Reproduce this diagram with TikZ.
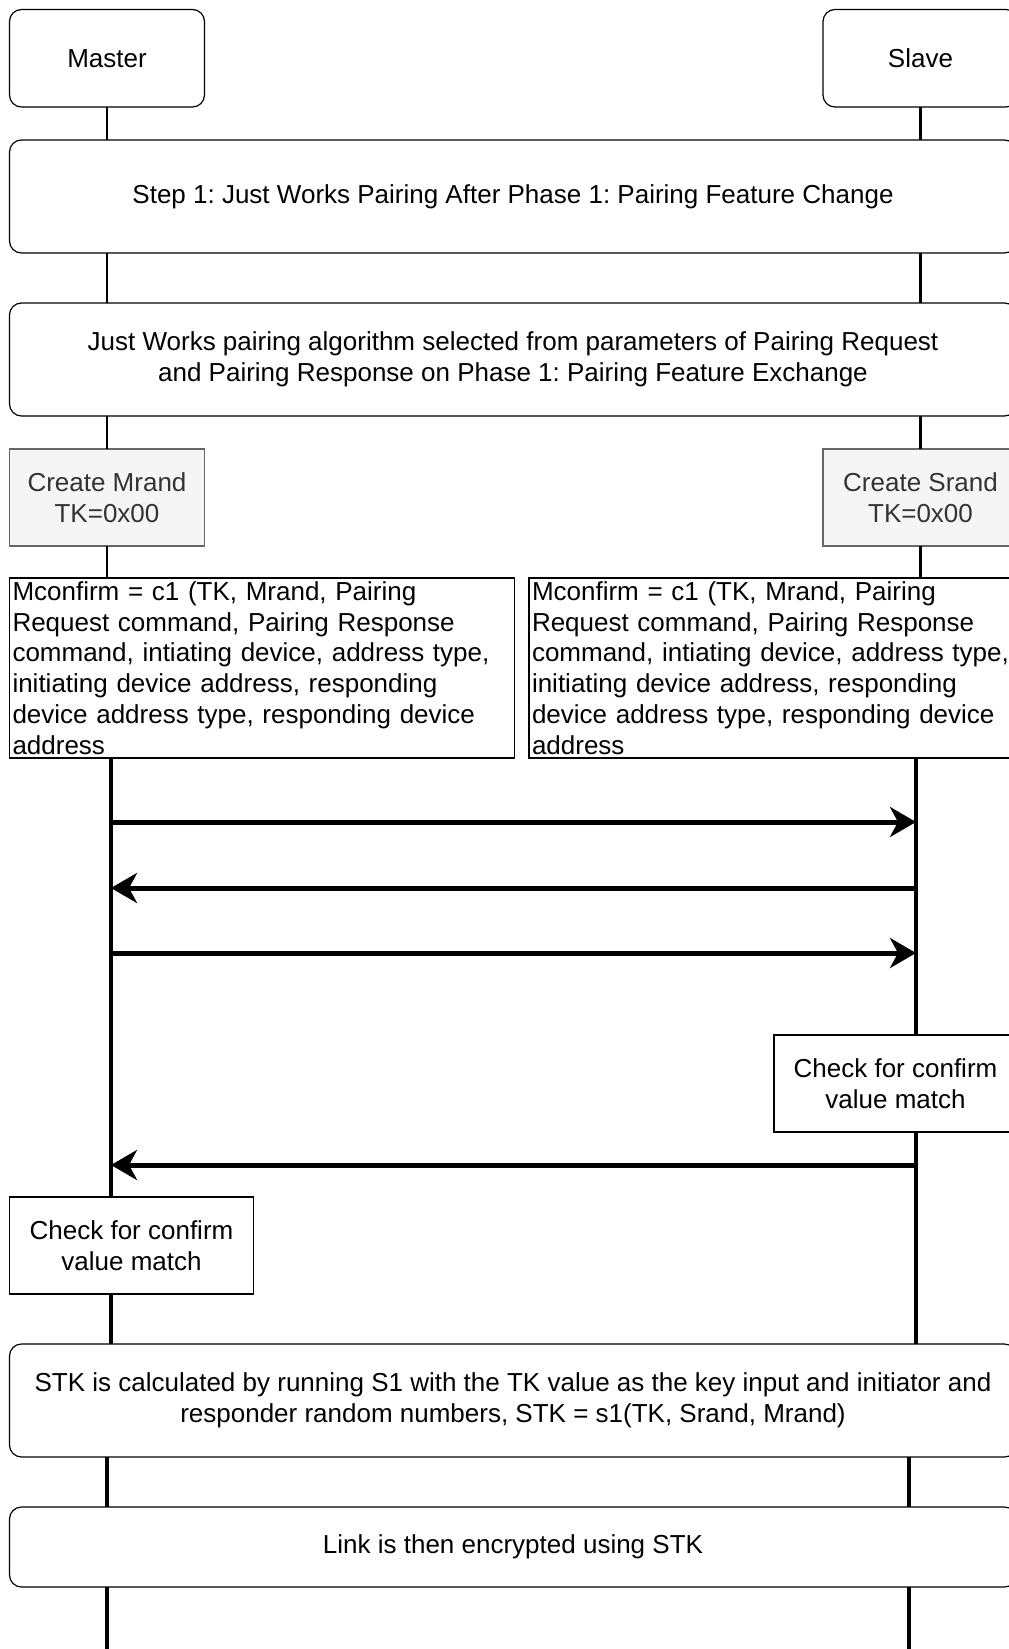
\documentclass[tikz,border=0pt]{standalone}
\usepackage{fontspec}
\setmainfont{Liberation Sans}
\usetikzlibrary{positioning, arrows.meta}
\definecolor{mfill}{RGB}{245,245,245}
\definecolor{mline}{RGB}{102,102,102}
\definecolor{mtext}{RGB}{51,51,51}
\frenchspacing

\begin{document}
\begin{tikzpicture}[x=0.5pt, y=-0.5pt,
    font=\fontsize{13}{15.4}\selectfont,
    every node/.style={inner sep=0pt, outer sep=0pt, anchor=north west},
    actor/.style={draw, rounded corners=6pt, line width=0.6pt, align=center,
      minimum width=97.5pt, minimum height=48.75pt},
    phase/.style={draw, rounded corners=6pt, line width=0.6pt, align=center,
      minimum width=503.5pt, minimum height=56.5pt},
    gen/.style={draw=mline, fill=mfill, text=mtext, line width=0.6pt, align=center,
      minimum width=97.5pt, minimum height=48.5pt},
    calc/.style={draw, line width=0.6pt, align=left, inner xsep=1.5pt,
      minimum height=90pt},
    check/.style={draw, line width=0.6pt, align=center, minimum height=48.5pt},
    life/.style={line width=1.4pt},
    lifeb/.style={line width=2pt},
    msg/.style={line width=2.5pt, -{Stealth[length=13pt, width=15pt, inset=4pt]}}]
  \useasboundingbox (0,0) rectangle (1008,1649);

  % participants
  \node[actor] (master) at (9.5,9.5) {Master};
  \node[actor] (slave) at (823,9.5) {Slave};

  % phase boxes across both lifelines
  \node[phase] (step) at (9.5,140)
    {Step 1: Just Works Pairing After Phase 1: Pairing Feature Change};
  \node[phase] (just) at (9.5,303)
    {Just Works pairing algorithm selected from parameters of Pairing Request\\
     and Pairing Response on Phase 1: Pairing Feature Exchange};

  \node[gen] (crM) at (9.5,449) {Create Mrand\\TK=0x00};
  \node[gen] (crS) at (823,449) {Create Srand\\TK=0x00};

  \node[calc, text width=249.5pt] (cfM) at (9.5,578)
    {Mconfirm = c1 (TK, Mrand, Pairing\\Request command, Pairing Response\\
     command, intiating device, address type,\\initiating device address, responding\\
     device address type, responding device\\address};
  \node[calc, text width=241pt] (cfS) at (529,578)
    {Mconfirm = c1 (TK, Mrand, Pairing\\Request command, Pairing Response\\
     command, intiating device, address type,\\initiating device address, responding\\
     device address type, responding device\\address};

  \node[check, minimum width=121.5pt] (chkS) at (774,1035) {Check for confirm\\value match};
  \node[check, minimum width=122pt] (chkM) at (9.5,1197) {Check for confirm\\value match};

  \node[phase] (stk) at (9.5,1344)
    {STK is calculated by running S1 with the TK value as the key input and initiator and\\
     responder random numbers, STK = s1(TK, Srand, Mrand)};
  \node[phase, minimum height=40pt] (link) at (9.5,1507) {Link is then encrypted using STK};

  % lifelines
  \coordinate (mlo) at (111,0);
  \coordinate (slo) at (916,0);
  \coordinate (slb) at (909,0);
  \coordinate (bot) at (0,1649);
  \foreach \a/\b in {master/step, step/just, just/crM, crM/cfM} {
    \draw[life] (\a.south -| master) -- (\b.north -| master);
  }
  \foreach \a/\b in {slave/step, step/just, just/crS, crS/cfS} {
    \draw[life] (\a.south -| slave) -- (\b.north -| slave);
  }
  \draw[lifeb] (cfM.south -| mlo) -- (chkM.north -| mlo);
  \draw[lifeb] (chkM.south -| mlo) -- (stk.north -| mlo);
  \draw[lifeb] (stk.south -| master) -- (link.north -| master);
  \draw[lifeb] (link.south -| master) -- (bot -| master);
  \draw[lifeb] (cfS.south -| slo) -- (chkS.north -| slo);
  \draw[lifeb] (chkS.south -| slo) -- (stk.north -| slo);
  \draw[lifeb] (stk.south -| slb) -- (link.north -| slb);
  \draw[lifeb] (link.south -| slb) -- (bot -| slb);

  % messages
  \coordinate (r1) at (0,822);
  \coordinate (r2) at (0,888);
  \coordinate (r3) at (0,953);
  \coordinate (r4) at (0,1165);
  \draw[msg] (r1 -| mlo) -- (r1 -| slo);
  \draw[msg] (r2 -| slo) -- (r2 -| mlo);
  \draw[msg] (r3 -| mlo) -- (r3 -| slo);
  \draw[msg] (r4 -| slo) -- (r4 -| mlo);
\end{tikzpicture}
\end{document}
